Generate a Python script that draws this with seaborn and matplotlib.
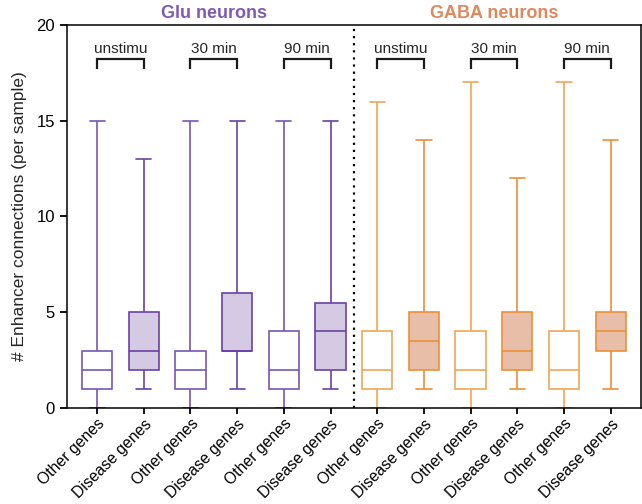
import numpy as np
import pandas as pd
import matplotlib
matplotlib.use("Agg")
import matplotlib.pyplot as plt
import matplotlib.transforms as mtransforms
import seaborn as sns

# Five-number summaries (min, q1, median, q3, max) for each box
conditions = ["unstimu", "30 min", "90 min"]
gene_sets = ["Other genes", "Disease genes"]

glu_other_min = [0, 0, 0]
glu_other_q1 = [1, 1, 1]
glu_other_med = [2, 2, 2]
glu_other_q3 = [3, 3, 4]
glu_other_max = [15, 15, 15]

glu_disease_min = [1, 1, 1]
glu_disease_q1 = [2, 3, 2]
glu_disease_med = [3, 3, 4]
glu_disease_q3 = [5, 6, 5.5]
glu_disease_max = [13, 15, 15]

gaba_other_min = [0, 0, 0]
gaba_other_q1 = [1, 1, 1]
gaba_other_med = [2, 2, 2]
gaba_other_q3 = [4, 4, 4]
gaba_other_max = [16, 17, 17]

gaba_disease_min = [1, 1, 1]
gaba_disease_q1 = [2, 2, 3]
gaba_disease_med = [3.5, 3, 4]
gaba_disease_q3 = [5, 5, 5]
gaba_disease_max = [14, 12, 14]

y_ticks = [0, 5, 10, 15, 20]

GLU_EDGE_OTHER = "#7856b6"
GLU_EDGE_DIS = "#6a41a6"
GLU_FILL = "#d5cae3"
GABA_EDGE_OTHER = "#f2a555"
GABA_EDGE_DIS = "#ec8f36"
GABA_FILL = "#e8bea9"
GLU_TITLE = "#7f5ab2"
GABA_TITLE = "#e0875c"

sns.set_style("ticks")
plt.rcParams["font.family"] = ["Liberation Sans", "DejaVu Sans"]

rows = []
box_styles = []
order = []


# One record per box value; five summary values give the quartiles exactly
def build(cell, other, disease, fill, e_other, e_dis):
    for c, cond in enumerate(conditions):
        for kind, stats, face, edge in (("Other", other, "white", e_other),
                                        ("Disease", disease, fill, e_dis)):
            key = f"{cell}|{cond}|{kind}"
            order.append(key)
            box_styles.append((key, face, edge))
            for arr in stats:
                rows.append({"box": key, "value": arr[c]})


build("Glu",
      (glu_other_min, glu_other_q1, glu_other_med, glu_other_q3, glu_other_max),
      (glu_disease_min, glu_disease_q1, glu_disease_med, glu_disease_q3, glu_disease_max),
      GLU_FILL, GLU_EDGE_OTHER, GLU_EDGE_DIS)
build("GABA",
      (gaba_other_min, gaba_other_q1, gaba_other_med, gaba_other_q3, gaba_other_max),
      (gaba_disease_min, gaba_disease_q1, gaba_disease_med, gaba_disease_q3, gaba_disease_max),
      GABA_FILL, GABA_EDGE_OTHER, GABA_EDGE_DIS)

df = pd.DataFrame(rows)

fig = plt.figure(figsize=(6.42, 5.04), dpi=100)
ax = fig.add_axes([0.104, 0.1905, 0.8945, 0.7599])

for key, face, edge in box_styles:
    sub = df[df["box"] == key]
    sns.boxplot(data=sub, x="box", y="value", order=order, ax=ax,
                color=face, linecolor=edge, saturation=1, width=0.65,
                whis=(0, 100), showfliers=False, linewidth=1.2)

ax.set_xlim(-0.65, 11.65)
ax.set_ylim(0, 20)
ax.set_yticks(y_ticks)
ax.set_yticklabels([str(t) for t in y_ticks], fontsize=12)
ax.set_xticks(range(len(order)))
ax.set_xticklabels([gene_sets[i % 2] for i in range(len(order))],
                   rotation=45, ha="right", rotation_mode="anchor", fontsize=11.3)
ax.set_xlabel("")
ax.set_ylabel("# Enhancer connections (per sample)", fontsize=12.5, labelpad=7)

for side in ["left", "right", "top", "bottom"]:
    ax.spines[side].set_visible(True)
    ax.spines[side].set_color("black")
    ax.spines[side].set_linewidth(1.1)
ax.tick_params(axis="y", direction="out", length=5, width=1.3, colors="black")
ax.tick_params(axis="x", direction="out", length=4, width=1.3, colors="black", pad=2)

# Divider between the two neuron types
ax.axvline(5.5, color="black", linestyle=(0, (1, 2.2)), linewidth=1.6)

# Condition brackets and labels
for g in range(6):
    x0 = 2 * g
    x1 = x0 + 1
    ax.plot([x0, x0, x1, x1], [17.7, 18.2, 18.2, 17.7], color="#1a1a1a",
            linewidth=1.6, solid_joinstyle="miter", solid_capstyle="butt")
    ax.text((x0 + x1) / 2, 18.55, conditions[g % 3], ha="center",
            va="baseline", fontsize=11)

# Group titles above the frame
trans = mtransforms.blended_transform_factory(ax.transData, ax.transAxes)
ax.text(2.5, 1.018, "Glu neurons", transform=trans, ha="center", va="baseline",
        fontsize=13, fontweight="bold", color=GLU_TITLE)
ax.text(8.5, 1.018, "GABA neurons", transform=trans, ha="center", va="baseline",
        fontsize=13, fontweight="bold", color=GABA_TITLE)

fig.savefig("out.png", dpi=100)
